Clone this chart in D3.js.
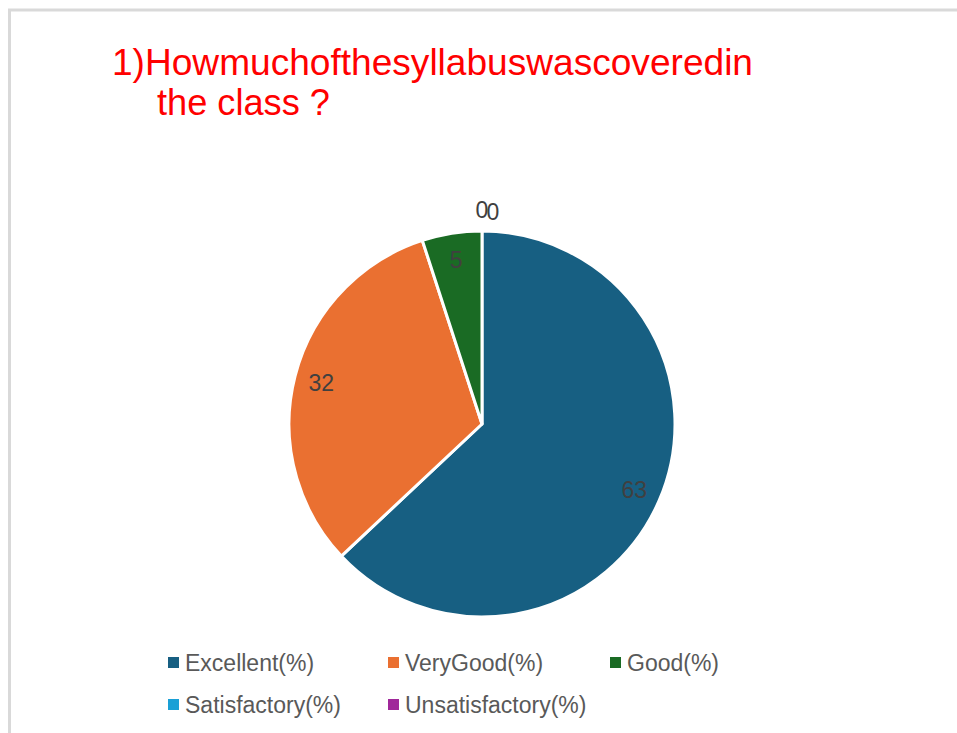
<!DOCTYPE html>
<html>
<head>
<meta charset="utf-8">
<script src="https://cdn.jsdelivr.net/npm/d3@7"></script>
<style>
  body { margin: 0; background: #fff; }
  text { font-family: "Liberation Sans", Arial, sans-serif; }
</style>
</head>
<body>
<script>
const categories = ["Excellent(%)", "VeryGood(%)", "Good(%)", "Satisfactory(%)", "Unsatisfactory(%)"];
const values = [63, 32, 5, 0, 0];
const colors = ["#175f82", "#ea7031", "#1a6b24", "#1aa0d6", "#a0289a"];
const titleLines = ["1)Howmuchofthesyllabuswascoveredin", "the class ?"];

const width = 957, height = 733;
const cx = 482, cy = 424, radius = 193;

const svg = d3
  .select("body")
  .append("svg")
  .attr("width", width)
  .attr("height", height);

// light frame on top and left
svg.append("line")
  .attr("x1", 8).attr("x2", width).attr("y1", 10).attr("y2", 10)
  .attr("stroke", "#d9d9d9").attr("stroke-width", 3);
svg.append("line")
  .attr("x1", 9.5).attr("x2", 9.5).attr("y1", 10).attr("y2", height)
  .attr("stroke", "#d9d9d9").attr("stroke-width", 3);

// title
svg.append("text")
  .attr("x", 112).attr("y", 75)
  .attr("fill", "#ff0000")
  .style("font-size", "37px")
  .attr("textLength", 641)
  .attr("lengthAdjust", "spacingAndGlyphs")
  .text(titleLines[0]);
svg.append("text")
  .attr("x", 157).attr("y", 115)
  .attr("fill", "#ff0000")
  .style("font-size", "37px")
  .attr("textLength", 173)
  .attr("lengthAdjust", "spacingAndGlyphs")
  .text(titleLines[1]);

const data = categories.map((c, i) => ({ name: c, value: values[i], color: colors[i] }));

const pie = d3.pie().sort(null).value(d => d.value);
const arcs = pie(data);
const arc = d3.arc().innerRadius(0).outerRadius(radius);
const labelArc = d3.arc().innerRadius(radius * 0.86).outerRadius(radius * 0.86);
const zeroArc = d3.arc().innerRadius(radius * 1.11).outerRadius(radius * 1.11);

const g = svg.append("g").attr("transform", `translate(${cx},${cy})`);

g.selectAll("path")
  .data(arcs.filter(d => d.value > 0))
  .enter()
  .append("path")
  .attr("d", arc)
  .attr("fill", d => d.data.color)
  .attr("stroke", "#fff")
  .attr("stroke-width", 3)
  .attr("stroke-linejoin", "round");

// zero slices share the same spot at the top, nudged a little apart
let zeroCount = 0;
g.selectAll("text.lbl")
  .data(arcs)
  .enter()
  .append("text")
  .attr("class", "lbl")
  .attr("transform", function (d) {
    if (d.value > 0) return `translate(${labelArc.centroid(d)})`;
    const p = zeroArc.centroid(d);
    const k = zeroCount++;
    return `translate(${p[0] + k * 11},${p[1] + k * 2})`;
  })
  .attr("text-anchor", "middle")
  .attr("dy", "0.35em")
  .attr("fill", "#404040")
  .style("font-size", "23px")
  .text(d => d.data.value);

// legend
const legendCols = [168, 388, 610];
const legendRows = [663, 705];
const legend = svg.selectAll("g.leg")
  .data(data)
  .enter()
  .append("g")
  .attr("class", "leg")
  .attr("transform", (d, i) => `translate(${legendCols[i % 3]},${legendRows[Math.floor(i / 3)]})`);

legend.append("rect")
  .attr("x", 0).attr("y", -6)
  .attr("width", 11).attr("height", 11)
  .attr("fill", d => d.color);

legend.append("text")
  .attr("x", 17).attr("y", 0)
  .attr("dy", "0.35em")
  .attr("fill", "#595959")
  .style("font-size", "23px")
  .text(d => d.name);
</script>
</body>
</html>
